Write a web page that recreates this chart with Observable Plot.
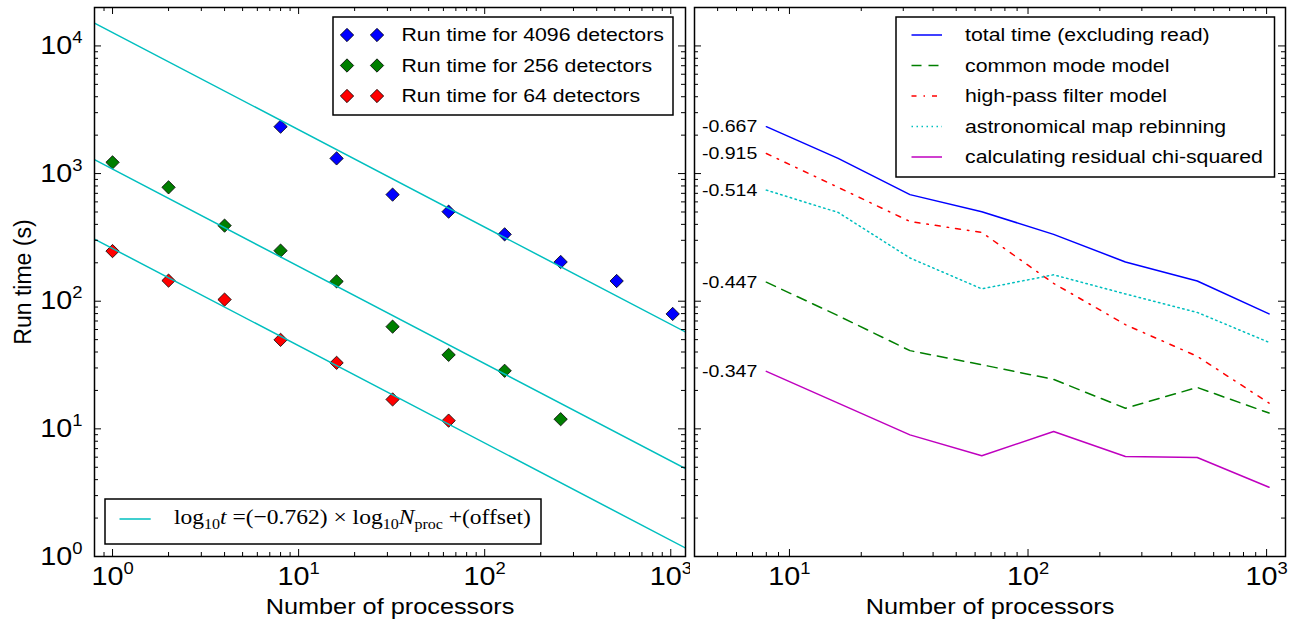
<!DOCTYPE html>
<html><head><meta charset="utf-8">
<script src="https://cdn.jsdelivr.net/npm/d3@7"></script>
<script src="https://cdn.jsdelivr.net/npm/@observablehq/plot@0.6"></script>
<style>
html,body{margin:0;padding:0;background:#fff;}
#wrap{position:relative;width:1291px;height:621px;overflow:hidden;background:#fff;}
#wrap svg{position:absolute;top:0;}
</style></head><body><div id="wrap"></div>
<script>
// ---------------- data ----------------
const procs4096 = [8, 16, 32, 64, 128, 256, 512, 1024];
const time4096 = [2330, 1315, 684, 503, 334, 203, 144, 79.5];
const procs256 = [1, 2, 4, 8, 16, 32, 64, 128, 256];
const time256 = [1224, 780, 391, 249, 143, 63.2, 38, 28.5, 11.9];
const procs64 = [1, 2, 4, 8, 16, 32, 64];
const time64 = [247, 145, 103, 49.8, 32.9, 17, 11.6];
const seriesLabels = ["Run time for 4096 detectors", "Run time for 256 detectors", "Run time for 64 detectors"];
const fitSlope = -0.762;
const fitOffsets = [4.105, 3.035, 2.413];

const procsRight = [8, 16, 32, 64, 128, 256, 512, 1024];
const totalTime = [2330, 1315, 684, 503, 334, 203, 144, 79.5];
const commonMode = [141, 77, 41, 31.8, 24.4, 14.5, 21.1, 13.3];
const highPass = [1436, 780, 421, 346, 138, 65.5, 37, 15.9];
const mapRebin = [742, 496, 218, 125, 161, 114, 81.7, 47.6];
const chiSq = [28.2, 15.9, 8.97, 6.15, 9.53, 6.07, 5.96, 3.49];
const componentNames = ["total time (excluding read)", "common mode model", "high-pass filter model", "astronomical map rebinning", "calculating residual chi-squared"];
const componentSlopes = ["-0.667", "-0.447", "-0.915", "-0.514", "-0.347"];

const xLabel = "Number of processors";
const yLabel = "Run time (s)";
const xTicksLeft = [1, 10, 100, 1000];
const xTicksRight = [10, 100, 1000];
const yTicks = [1, 10, 100, 1000, 10000];

// ---------------- layout / style ----------------
const ns = "http://www.w3.org/2000/svg";
const S = 1.15;             // horizontal text stretch of the original
const W1 = 690, W2 = 601, H = 621;
const MT = 7, MB = 65;
const FH = H - MT - MB;
const ML1 = 94, MR1 = 5, ML2 = 4, MR2 = 6;
const FW1 = W1 - ML1 - MR1, FW2 = W2 - ML2 - MR2;
const xDomL = [0.8, 1200], xDomR = [4, 1200], yDom = [1, 20000];
const MAJ = 7, MIN = 4;
const TICK_FS = 25, SUP_FS = 16, SUP_RISE = 11;
const FONT = "'Liberation Sans', Arial, Helvetica, sans-serif";
const ptColors = ["#0000ff", "#007f00", "#ff0000"];
const fitColor = "#00bfbf";
const compStyles = [
  {stroke: "#0000ff", dash: null},
  {stroke: "#007f00", dash: "10,7"},
  {stroke: "#ff0000", dash: "5,7,1.5,7"},
  {stroke: "#00bfbf", dash: "1.5,3.5"},
  {stroke: "#bf00bf", dash: null}
];

function minorTicks([lo, hi]) {
  const out = [];
  for (let e = Math.floor(Math.log10(lo)); e <= Math.ceil(Math.log10(hi)); e++)
    for (let m = 2; m <= 9; m++) { const v = m * 10 ** e; if (v > lo * 1.001 && v < hi * 0.999) out.push(v); }
  return out;
}
function tickMarks(xMaj, xMin, yMaj, yMin, FW) {
  const m = [];
  for (const [vals, len] of [[xMaj, MAJ], [xMin, MIN]]) {
    m.push(Plot.ruleX(vals, {x: d => d, insetTop: FH - len, stroke: "black", strokeWidth: 1}));
    m.push(Plot.ruleX(vals, {x: d => d, insetBottom: FH - len, stroke: "black", strokeWidth: 1}));
  }
  for (const [vals, len] of [[yMaj, MAJ], [yMin, MIN]]) {
    m.push(Plot.ruleY(vals, {y: d => d, insetRight: FW - len, stroke: "black", strokeWidth: 1}));
    m.push(Plot.ruleY(vals, {y: d => d, insetLeft: FW - len, stroke: "black", strokeWidth: 1}));
  }
  return m;
}
const expLabel = d => "10^" + Math.round(Math.log10(d));

// ---------------- left panel ----------------
const pointSets = [
  procs4096.map((x, i) => ({x, y: time4096[i]})),
  procs256.map((x, i) => ({x, y: time256[i]})),
  procs64.map((x, i) => ({x, y: time64[i]}))
];
const fitLines = fitOffsets.map(off => xDomL.map(x => ({x, y: 10 ** (off + fitSlope * Math.log10(x))})));

const left = Plot.plot({
  width: W1, height: H, marginLeft: ML1, marginRight: MR1, marginTop: MT, marginBottom: MB,
  x: {type: "log", domain: xDomL, axis: null},
  y: {type: "log", domain: yDom, axis: null},
  style: {fontFamily: FONT, fontSize: "22px", background: "white", color: "black", overflow: "visible"},
  marks: [
    ...pointSets.map((d, k) => Plot.dot(d, {x: "x", y: "y", symbol: "diamond2", r: 6, fill: ptColors[k], stroke: "black", strokeWidth: 0.8})),
    ...fitLines.map(d => Plot.line(d, {x: "x", y: "y", stroke: fitColor, strokeWidth: 1.5, clip: true})),
    ...tickMarks(xTicksLeft, minorTicks(xDomL), yTicks, minorTicks(yDom), FW1),
    Plot.text(xTicksLeft, {x: d => d, frameAnchor: "bottom", lineAnchor: "top", textAnchor: "middle", dy: 11, text: expLabel, fontSize: TICK_FS}),
    Plot.text(yTicks, {y: d => d, frameAnchor: "left", lineAnchor: "middle", textAnchor: "end", dx: -12, text: expLabel, fontSize: TICK_FS}),
    Plot.text([xLabel], {frameAnchor: "bottom", lineAnchor: "middle", textAnchor: "middle", dy: 50, text: d => d, fontSize: 22}),
    Plot.text([yLabel], {frameAnchor: "left", lineAnchor: "middle", textAnchor: "middle", dx: -71, rotate: -90, text: d => d, fontSize: 23}),
    Plot.frame({stroke: "black", strokeWidth: 1.5})
  ]
});

// ---------------- right panel ----------------
const compSeries = [totalTime, commonMode, highPass, mapRebin, chiSq];
const compData = compSeries.map(arr => procsRight.map((x, i) => ({x, y: arr[i]})));
const startLabels = compSeries.map((arr, k) => ({x: procsRight[0], y: arr[0], label: componentSlopes[k]}));

const right = Plot.plot({
  width: W2, height: H, marginLeft: ML2, marginRight: MR2, marginTop: MT, marginBottom: MB,
  x: {type: "log", domain: xDomR, axis: null},
  y: {type: "log", domain: yDom, axis: null},
  style: {fontFamily: FONT, fontSize: "22px", background: "white", color: "black", overflow: "visible"},
  marks: [
    ...compData.map((d, k) => Plot.line(d, {x: "x", y: "y", stroke: compStyles[k].stroke, strokeDasharray: compStyles[k].dash, strokeWidth: 1.5})),
    Plot.text(startLabels, {x: "x", y: "y", text: "label", textAnchor: "end", lineAnchor: "middle", dx: -9, fontSize: 17}),
    ...tickMarks(xTicksRight, minorTicks(xDomR), yTicks, minorTicks(yDom), FW2),
    Plot.text(xTicksRight, {x: d => d, frameAnchor: "bottom", lineAnchor: "top", textAnchor: "middle", dy: 11, text: expLabel, fontSize: TICK_FS}),
    Plot.text([xLabel], {frameAnchor: "bottom", lineAnchor: "middle", textAnchor: "middle", dy: 50, text: d => d, fontSize: 22}),
    Plot.frame({stroke: "black", strokeWidth: 1.5})
  ]
});

const wrap = document.getElementById("wrap");
left.style.left = "0px";
right.style.left = W1 + "px";
wrap.appendChild(left);
wrap.appendChild(right);

// superscripts + horizontal stretch of Plot's texts
function finishTexts(svg) {
  d3.select(svg).selectAll("text").each(function () {
    const m = /^10\^(-?\d+)$/.exec(this.textContent);
    if (m) {
      this.textContent = "";
      this.setAttribute("font-size", TICK_FS);
      const a = document.createElementNS(ns, "tspan");
      a.setAttribute("font-size", TICK_FS); a.textContent = "10"; this.appendChild(a);
      const b = document.createElementNS(ns, "tspan");
      b.setAttribute("dy", -SUP_RISE); b.setAttribute("font-size", SUP_FS); b.textContent = m[1];
      this.appendChild(b);
    }
    const tr = this.getAttribute("transform") || "";
    if (!/rotate/.test(tr)) this.setAttribute("transform", tr + ` scale(${S},1)`);
  });
}
finishTexts(left);
finishTexts(right);

// ---------------- legends ----------------
function legendText(g, x, y, s) {
  g.append("text").attr("transform", `translate(${x},${y}) scale(${S},1)`).attr("dy", "0.35em")
    .attr("text-anchor", "start").attr("font-family", FONT).attr("font-size", 18.5)
    .attr("fill", "black").text(s);
}
const ROW = 30.5;
{ // left: markers legend
  const g = d3.select(left).append("g").attr("text-anchor", "start");
  g.append("rect").attr("x", 333).attr("y", 17).attr("width", 340).attr("height", 98)
    .attr("fill", "white").attr("stroke", "black").attr("stroke-width", 1.5);
  const sym = d3.symbol().type(d3.symbolDiamond2).size(Math.PI * 36)();
  seriesLabels.forEach((s, k) => {
    const y = 35 + k * ROW;
    for (const x of [347, 377])
      g.append("path").attr("d", sym).attr("transform", `translate(${x},${y})`)
        .attr("fill", ptColors[k]).attr("stroke", "black").attr("stroke-width", 0.8);
    legendText(g, 401.5, y, s);
  });
}
{ // left: fit formula legend
  const g = d3.select(left).append("g").attr("text-anchor", "start");
  g.append("rect").attr("x", 105).attr("y", 499).attr("width", 436).attr("height", 45)
    .attr("fill", "white").attr("stroke", "black").attr("stroke-width", 1.5);
  g.append("line").attr("x1", 119.5).attr("x2", 150.7).attr("y1", 519).attr("y2", 519)
    .attr("stroke", fitColor).attr("stroke-width", 1.5);
  const t = g.append("text").attr("font-family", "'Liberation Serif', 'Times New Roman', serif")
    .attr("text-anchor", "start").attr("font-size", 22).attr("fill", "black").attr("style", "white-space:pre");
  const parts = [
    {s: "log"}, {s: "10", sub: true}, {s: "t", it: true}, {s: " =(\u22120.762) \u00d7 log"},
    {s: "10", sub: true}, {s: "N", it: true}, {s: "proc", sub: true}, {s: " +(offset)"}
  ];
  let cur = 0;
  for (const p of parts) {
    const target = p.sub ? 5 : 0;
    const ts = t.append("tspan").attr("dy", target - cur).text(p.s);
    cur = target;
    if (p.sub) ts.attr("font-size", 15);
    if (p.it) ts.attr("font-style", "italic");
  }
  const w = t.node().getComputedTextLength() || 357;
  t.attr("transform", `translate(174,523.5) scale(${357 / w},1)`);
}
{ // right: component legend
  const g = d3.select(right).append("g").attr("text-anchor", "start");
  g.append("rect").attr("x", 206).attr("y", 17).attr("width", 378.5).attr("height", 160)
    .attr("fill", "white").attr("stroke", "black").attr("stroke-width", 1.5);
  componentNames.forEach((s, k) => {
    const y = 35 + k * ROW;
    const ln = g.append("line").attr("x1", 221.5).attr("x2", 252).attr("y1", y).attr("y2", y)
      .attr("stroke", compStyles[k].stroke).attr("stroke-width", 1.5);
    if (compStyles[k].dash) ln.attr("stroke-dasharray", compStyles[k].dash);
    legendText(g, 275, y, s);
  });
}
</script></body></html>
